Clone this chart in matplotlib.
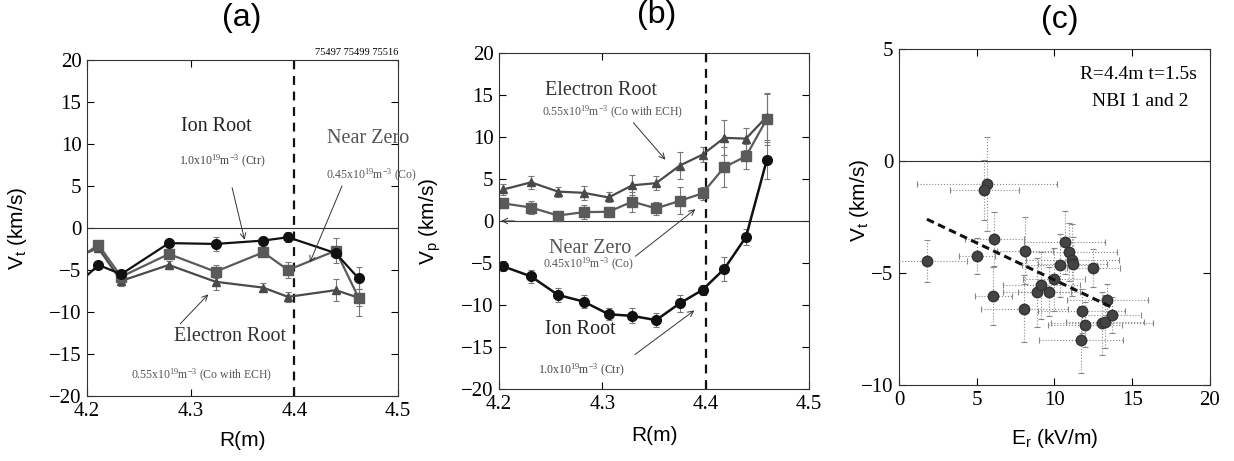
import matplotlib
matplotlib.use("Agg")
import matplotlib.pyplot as plt

# ticks and annotations use a Times-like serif; axis labels/titles use sans
plt.rcParams['font.family'] = ['Liberation Serif', 'DejaVu Serif']
plt.rcParams['mathtext.default'] = 'regular'

SANS = ['Liberation Sans', 'DejaVu Sans']

# ---- panel (a): toroidal velocity vs R (first point sits just left of the axis)
r_a = [4.19, 4.211, 4.233, 4.279, 4.324, 4.370, 4.394, 4.440, 4.462]
vt_ion = [-6.8, -4.4, -5.5, -1.8, -1.9, -1.5, -1.1, -3.0, -6.0]
vt_ion_err = [0.5, 0.4, 0.5, 0.5, 0.8, 0.4, 0.6, 0.6, 1.3]
vt_zero = [-3.8, -2.0, -5.8, -3.1, -5.2, -2.9, -5.0, -2.7, -8.3]
vt_zero_err = [0.5, 0.5, 0.8, 0.5, 0.8, 0.5, 1.0, 1.5, 2.2]
vt_elec = [-3.4, -2.4, -6.3, -4.4, -6.4, -7.1, -8.2, -7.4, -8.3]
vt_elec_err = [0.5, 0.5, 0.6, 0.5, 1.0, 0.5, 0.6, 1.3, 1.0]

# ---- panel (b): poloidal velocity vs R
r_b = [4.204, 4.231, 4.257, 4.282, 4.306, 4.329, 4.352, 4.375, 4.397, 4.418, 4.439, 4.459]
vp_ion = [-5.4, -6.6, -8.8, -9.6, -11.1, -11.3, -11.8, -9.8, -8.2, -5.7, -1.9, 7.2]
vp_ion_err = [0.6, 0.8, 0.8, 0.8, 0.7, 0.9, 0.8, 1.0, 0.6, 1.4, 0.9, 2.2]
vp_zero = [2.1, 1.6, 0.65, 1.05, 1.1, 2.3, 1.5, 2.4, 3.3, 6.4, 7.7, 12.1]
vp_zero_err = [0.6, 0.8, 0.5, 0.8, 0.6, 1.2, 0.8, 1.6, 0.8, 2.4, 1.5, 3.0]
vp_elec = [3.75, 4.6, 3.5, 3.35, 2.8, 4.25, 4.5, 6.6, 7.9, 9.9, 9.8, 12.4]
vp_elec_err = [0.6, 0.8, 0.6, 0.8, 0.6, 1.2, 0.8, 1.6, 0.9, 2.1, 1.3, 2.8]

# ---- panel (c): Vt vs Er at R=4.4m
er = [1.8, 5.66, 5.5, 5.03, 6.14, 6.07, 8.08, 8.06, 8.88, 9.16, 9.64, 9.95, 10.33,
      10.67, 10.92, 11.14, 11.17, 12.49, 11.76, 11.96, 11.69, 13.05, 13.27, 13.4, 13.69]
vt_c = [-4.46, -1.04, -1.3, -4.25, -3.5, -6.03, -4.0, -6.6, -5.87, -5.55, -5.83, -5.29, -4.66,
        -3.63, -4.07, -4.42, -4.58, -4.79, -6.7, -7.31, -7.97, -7.25, -7.17, -6.19, -6.88]
er_err = [2.6, 4.5, 2.2, 1.15, 1.9, 1.2, 1.8, 2.8, 2.2, 2.5, 2.0, 2.0, 2.4,
          2.6, 3.1, 3.0, 2.2, 1.7, 2.8, 2.4, 2.7, 3.3, 2.5, 2.6, 1.9]
vt_c_err = [0.95, 2.1, 1.35, 0.8, 1.2, 1.3, 1.5, 1.5, 1.55, 1.5, 1.1, 1.4, 1.4,
            1.4, 1.3, 1.6, 1.2, 0.85, 1.0, 1.0, 1.5, 1.4, 1.2, 0.7, 0.8]
fit_er = [1.8, 13.6]
fit_vt = [-2.6, -6.5]

fig = plt.figure(figsize=(12.34, 4.61), dpi=100)
ax_a = fig.add_axes([0.0705, 0.141, 0.252, 0.7289])
ax_b = fig.add_axes([0.4044, 0.1562, 0.2512, 0.7289])
ax_c = fig.add_axes([0.7285, 0.1649, 0.252, 0.7289])


def style(ax):
    ax.tick_params(direction='in', top=True, right=True, length=5, width=0.8,
                   labelsize=15, pad=4)
    for s in ax.spines.values():
        s.set_linewidth(0.8)
        s.set_color('#333333')


def profile(ax, x, y, err, color, marker, ms, lw):
    ax.errorbar(x, y, yerr=err, color=color, marker=marker, ms=ms, lw=lw,
                ecolor='#777777', elinewidth=0.8, capsize=2.5, capthick=0.8)


arrow = dict(arrowstyle='->', color='#333333', lw=0.7, shrinkA=0, shrinkB=0)

# (a)
profile(ax_a, r_a, vt_elec, vt_elec_err, '#4a4a4a', '^', 6, 1.6)
profile(ax_a, r_a, vt_zero, vt_zero_err, '#5a5a5a', 's', 7, 1.6)
profile(ax_a, r_a, vt_ion, vt_ion_err, '#111111', 'o', 7, 1.6)
ax_a.axhline(0, color='#333333', lw=0.8)
ax_a.axvline(4.4, color='#111111', lw=1.6, ls=(0, (4, 3)))
ax_a.set_xlim(4.2, 4.5)
ax_a.set_ylim(-20, 20)
ax_a.set_xticks([4.2, 4.3, 4.4, 4.5])
ax_a.set_yticks(range(-20, 21, 5))
ax_a.set_xlabel('R(m)', fontsize=15, family=SANS)
ax_a.set_ylabel('V$_t$ (km/s)', fontsize=15, family=SANS)
ax_a.xaxis.set_label_coords(0.5, -0.105)
ax_a.yaxis.set_label_coords(-0.185, 0.5)
ax_a.text(4.325, 12.1, 'Ion Root', fontsize=14.5, color='#222222', ha='center', va='center')
ax_a.text(4.33, 7.9, '1.0x10$^{19}$m$^{-3}$ (Ctr)', fontsize=8.5, color='#444444', ha='center', va='center')
ax_a.annotate('', xy=(4.352, -1.4), xytext=(4.34, 4.8), arrowprops=arrow)
ax_a.text(4.471, 10.7, 'Near Zero', fontsize=14.5, color='#555555', ha='center', va='center')
ax_a.text(4.474, 6.2, '0.45x10$^{19}$m$^{-3}$ (Co)', fontsize=8.5, color='#555555', ha='center', va='center')
ax_a.annotate('', xy=(4.415, -4.1), xytext=(4.446, 5.0), arrowprops=arrow)
ax_a.text(4.338, -12.9, 'Electron Root', fontsize=14.5, color='#333333', ha='center', va='center')
ax_a.text(4.311, -17.6, '0.55x10$^{19}$m$^{-3}$ (Co with ECH)', fontsize=8.5, color='#555555', ha='center', va='center')
ax_a.annotate('', xy=(4.317, -7.9), xytext=(4.29, -11.4), arrowprops=arrow)
ax_a.text(1.0, 1.01, '75497 75499 75516', transform=ax_a.transAxes,
          fontsize=7.5, ha='right', va='bottom')
style(ax_a)

# (b)
profile(ax_b, r_b, vp_elec, vp_elec_err, '#4a4a4a', '^', 6, 1.6)
profile(ax_b, r_b, vp_zero, vp_zero_err, '#5a5a5a', 's', 7, 1.6)
profile(ax_b, r_b, vp_ion, vp_ion_err, '#111111', 'o', 7, 1.8)
ax_b.axhline(0, color='#333333', lw=0.8)
ax_b.axvline(4.4, color='#111111', lw=1.6, ls=(0, (4, 3)))
ax_b.set_xlim(4.2, 4.5)
ax_b.set_ylim(-20, 20)
ax_b.set_xticks([4.2, 4.3, 4.4, 4.5])
ax_b.set_yticks(range(-20, 21, 5))
ax_b.set_xlabel('R(m)', fontsize=15, family=SANS)
ax_b.set_ylabel('V$_p$ (km/s)', fontsize=15, family=SANS)
ax_b.xaxis.set_label_coords(0.5, -0.11)
ax_b.yaxis.set_label_coords(-0.18, 0.5)
ax_b.text(4.299, 15.5, 'Electron Root', fontsize=14.5, color='#333333', ha='center', va='center')
ax_b.text(4.31, 12.9, '0.55x10$^{19}$m$^{-3}$ (Co with ECH)', fontsize=8.5, color='#555555', ha='center', va='center')
ax_b.annotate('', xy=(4.361, 7.3), xytext=(4.33, 11.7), arrowprops=arrow)
ax_b.text(4.288, -3.25, 'Near Zero', fontsize=14.5, color='#555555', ha='center', va='center')
ax_b.text(4.2865, -5.2, '0.45x10$^{19}$m$^{-3}$ (Co)', fontsize=8.5, color='#555555', ha='center', va='center')
ax_b.annotate('', xy=(4.39, 1.4), xytext=(4.332, -4.2), arrowprops=arrow)
ax_b.annotate('', xy=(4.202, 0), xytext=(4.215, 0), arrowprops=arrow)
ax_b.text(4.2785, -12.95, 'Ion Root', fontsize=14.5, color='#222222', ha='center', va='center')
ax_b.text(4.28, -17.8, '1.0x10$^{19}$m$^{-3}$ (Ctr)', fontsize=8.5, color='#444444', ha='center', va='center')
ax_b.annotate('', xy=(4.389, -10.65), xytext=(4.3315, -15.9), arrowprops=arrow)
style(ax_b)

# (c)
eb = ax_c.errorbar(er, vt_c, xerr=er_err, yerr=vt_c_err, fmt='o', ms=7.5, color='#444444',
                   mec='#333333', ecolor='#888888', elinewidth=0.8, capsize=2, capthick=0.8, zorder=3)
for col in eb[2]:
    col.set_linestyle(':')
ax_c.plot(fit_er, fit_vt, color='#111111', lw=2.2, ls=(0, (2.5, 1.5)), zorder=4)
ax_c.axhline(0, color='#333333', lw=0.8)
ax_c.set_xlim(0, 20)
ax_c.set_ylim(-10, 5)
ax_c.set_xticks([0, 5, 10, 15, 20])
ax_c.set_yticks([-10, -5, 0, 5])
ax_c.set_xlabel('E$_r$ (kV/m)', fontsize=15, family=SANS)
ax_c.set_ylabel('V$_t$ (km/s)', fontsize=15, family=SANS)
ax_c.xaxis.set_label_coords(0.5, -0.125)
ax_c.yaxis.set_label_coords(-0.09, 0.55)
ax_c.text(15.4, 3.84, 'R=4.4m t=1.5s', fontsize=14, ha='center', va='center')
ax_c.text(15.5, 2.65, 'NBI 1 and 2', fontsize=14, ha='center', va='center')
style(ax_c)

fig.text(0.196, 0.961, '(a)', fontsize=23, family=SANS, ha='center', va='center')
fig.text(0.532, 0.967, '(b)', fontsize=23, family=SANS, ha='center', va='center')
fig.text(0.859, 0.957, '(c)', fontsize=23, family=SANS, ha='center', va='center')

fig.savefig('out.png', dpi=100)
